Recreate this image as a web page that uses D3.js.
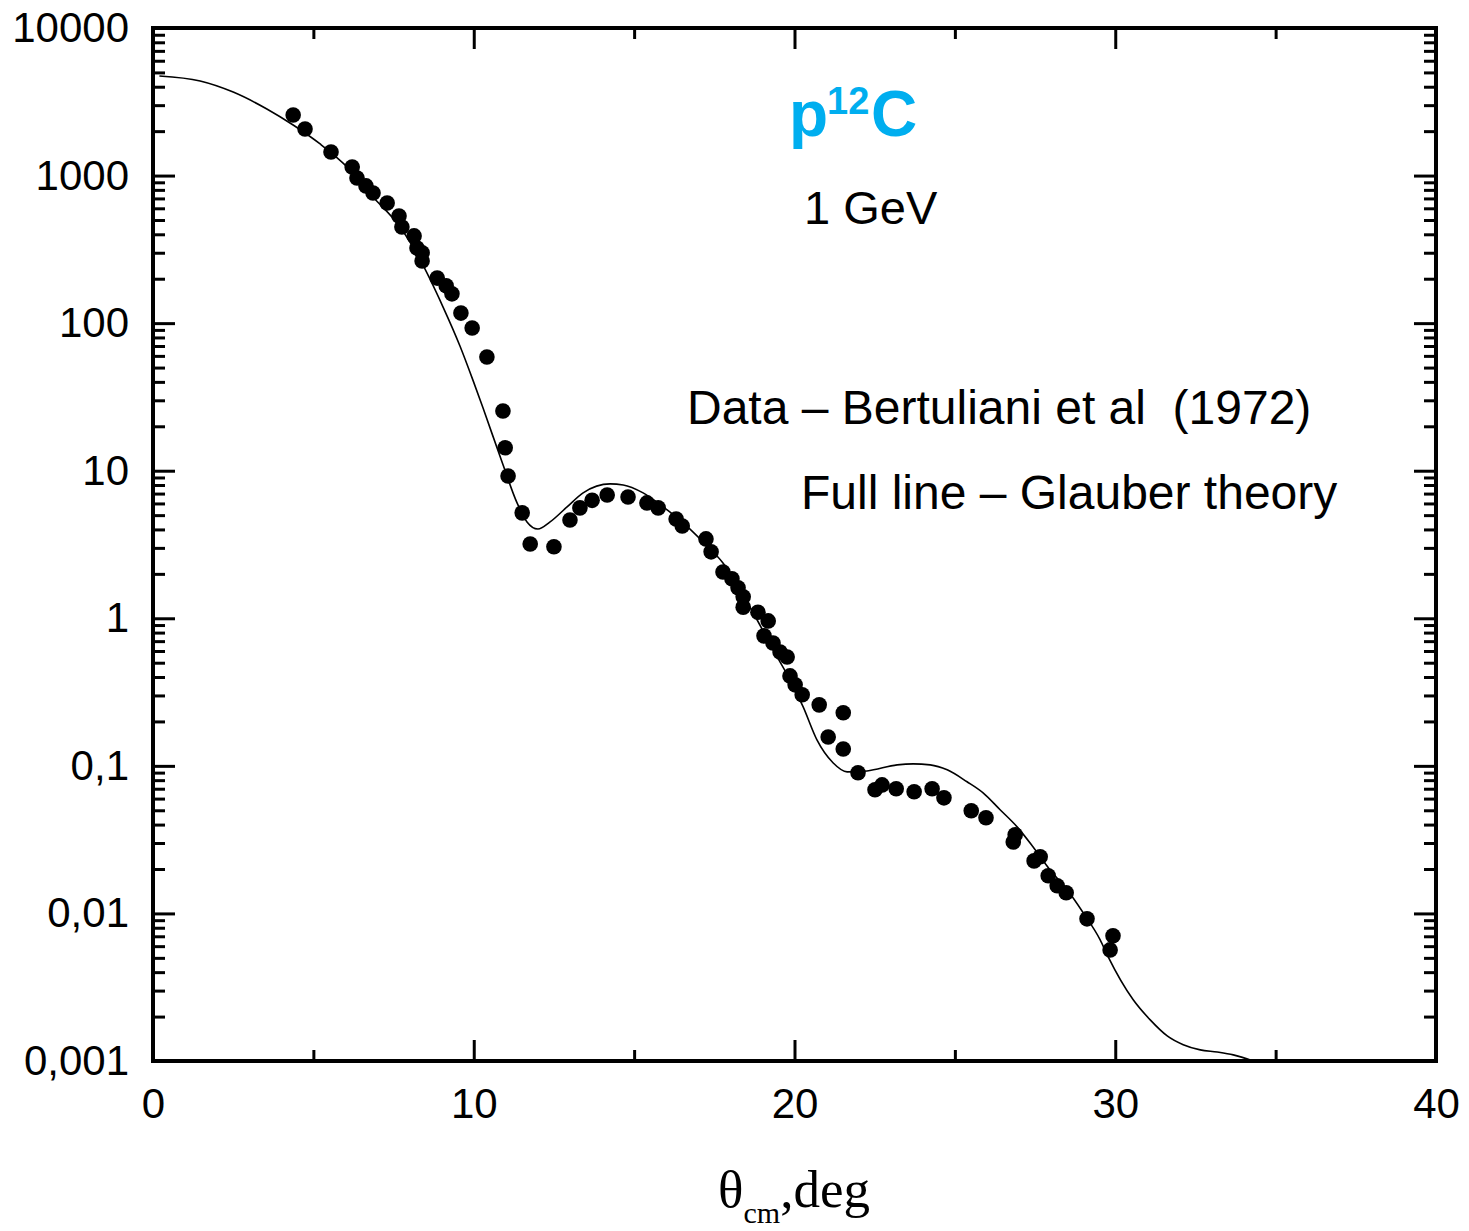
<!DOCTYPE html>
<html>
<head>
<meta charset="utf-8">
<script src="https://cdn.jsdelivr.net/npm/d3@7"></script>
<style>
  html, body { margin: 0; padding: 0; background: #ffffff; }
  svg { display: block; }
</style>
</head>
<body>
<svg id="chart" width="1469" height="1231"></svg>
<script>
// ---------- data ----------
const dataAngle = [4.37, 4.74, 5.55, 6.21, 6.36, 6.64, 6.86, 7.30, 7.67, 7.76, 8.14, 8.23, 8.39, 8.39, 8.86, 9.14, 9.32, 9.60, 9.95, 10.41,
  10.91, 10.98, 11.07, 11.51, 11.76, 12.50, 13.00, 13.31, 13.69, 14.16, 14.81, 15.40, 15.75, 16.31, 16.50, 17.24, 17.40, 17.77, 18.05, 18.24,
  18.40, 18.40, 18.86, 19.18, 19.05, 19.33, 19.55, 19.77, 19.86, 20.02, 20.24, 20.77, 21.52, 21.05, 21.52, 21.98, 22.51, 22.73, 23.17, 23.73,
  24.29, 24.66, 25.51, 25.97, 26.82, 26.88, 27.47, 27.66, 27.91, 28.19, 28.47, 29.12, 29.93, 29.84];
const dataXsec = [2576, 2070, 1445, 1143, 963, 851, 762, 652, 532, 448, 390, 323, 300, 264, 202, 179, 158, 117, 92.8, 59,
  25.4, 14.3, 9.2, 5.18, 3.19, 3.05, 4.64, 5.6, 6.3, 6.85, 6.64, 6.05, 5.6, 4.71, 4.22, 3.45, 2.82, 2.06, 1.85, 1.61,
  1.40, 1.19, 1.10, 0.96, 0.76, 0.68, 0.59, 0.547, 0.407, 0.354, 0.303, 0.259, 0.229, 0.157, 0.130, 0.0897, 0.0688, 0.0743, 0.070, 0.0667,
  0.070, 0.0607, 0.0496, 0.0445, 0.0305, 0.0341, 0.0227, 0.0242, 0.0180, 0.0154, 0.0138, 0.00919, 0.00705, 0.00566];

const theoryAngle = [0.2, 1.47, 2.5, 3.55, 4.37, 5.21, 6.05, 6.86, 7.70, 8.33, 9.04, 9.57, 9.98, 10.29, 10.91, 11.35, 11.66, 12.00, 12.38, 12.91,
  13.41, 14.25, 14.66, 15.28, 16.03, 16.53, 17.15, 17.77, 18.71, 19.46, 19.86, 20.27, 20.70, 21.20, 21.64, 22.26, 23.20, 23.70, 24.23, 24.76,
  25.38, 25.88, 26.41, 26.94, 27.44, 27.97, 28.50, 29.00, 29.53, 29.78, 30.56, 31.09, 31.62, 32.12, 32.65, 33.18, 33.68, 34.30];
const theoryXsec = [4730, 4375, 3680, 2826, 2200, 1637, 1145, 716, 449, 268, 129, 70, 40.8, 26.6, 11.0, 6.05, 4.50, 4.03, 4.50, 5.69,
  7.08, 8.14, 8.01, 7.08, 5.42, 4.43, 3.29, 2.37, 1.09, 0.547, 0.383, 0.251, 0.150, 0.105, 0.0911, 0.0924, 0.1016, 0.1032, 0.1016, 0.094,
  0.078, 0.0656, 0.0504, 0.0386, 0.0282, 0.0197, 0.01445, 0.0101, 0.00662, 0.00508, 0.0026, 0.0019, 0.00148, 0.00129, 0.00119, 0.00115, 0.0011, 0.001];

const xMajorTicks = [0, 10, 20, 30, 40];
const xMinorTicks = [5, 15, 25, 35];
const yMajorTicks = [10000, 1000, 100, 10, 1, 0.1, 0.01, 0.001];
const yTickLabels = ["10000", "1000", "100", "10", "1", "0,1", "0,01", "0,001"];

// ---------- layout ----------
const svg = d3.select("#chart");
const L = 153, R = 1436, T = 28, B = 1061;

const x = d3.scaleLinear().domain([0, 40]).range([L, R]);
const y = d3.scaleLog().domain([0.001, 10000]).range([B, T]);

const yMinorTicks = [];
yMajorTicks.slice(1).forEach(d => { for (let k = 2; k <= 9; k++) yMinorTicks.push(d * k); });

const labelFor = new Map(yMajorTicks.map((d, i) => [d, yTickLabels[i]]));

const axisFont = "'Liberation Sans', Arial, sans-serif";

function styleAxis(g, width) {
  g.select(".domain").remove();
  g.selectAll(".tick line").attr("stroke", "#000").attr("stroke-width", width);
  g.selectAll(".tick text").attr("fill", "#000").style("font-family", axisFont).style("font-size", "42px");
}

// left axis
svg.append("g").attr("transform", `translate(${L},0)`)
  .call(d3.axisLeft(y).tickValues(yMinorTicks).tickSize(-12).tickFormat(""))
  .call(g => styleAxis(g, 3));
svg.append("g").attr("transform", `translate(${L},0)`)
  .call(d3.axisLeft(y).tickValues(yMajorTicks).tickSize(-22).tickPadding(24).tickFormat(d => labelFor.get(d)))
  .call(g => styleAxis(g, 3));

// right axis
svg.append("g").attr("transform", `translate(${R},0)`)
  .call(d3.axisRight(y).tickValues(yMinorTicks).tickSize(-12).tickFormat(""))
  .call(g => styleAxis(g, 3));
svg.append("g").attr("transform", `translate(${R},0)`)
  .call(d3.axisRight(y).tickValues(yMajorTicks).tickSize(-22).tickFormat(""))
  .call(g => styleAxis(g, 3));

// bottom axis
svg.append("g").attr("transform", `translate(0,${B})`)
  .call(d3.axisBottom(x).tickValues(xMinorTicks).tickSize(-11).tickFormat(""))
  .call(g => styleAxis(g, 3));
svg.append("g").attr("transform", `translate(0,${B})`)
  .call(d3.axisBottom(x).tickValues(xMajorTicks).tickSize(-21).tickPadding(27).tickFormat(d3.format("d")))
  .call(g => styleAxis(g, 3));

// top axis
svg.append("g").attr("transform", `translate(0,${T})`)
  .call(d3.axisTop(x).tickValues(xMinorTicks).tickSize(-11).tickFormat(""))
  .call(g => styleAxis(g, 3));
svg.append("g").attr("transform", `translate(0,${T})`)
  .call(d3.axisTop(x).tickValues(xMajorTicks).tickSize(-21).tickFormat(""))
  .call(g => styleAxis(g, 3));

// frame
svg.append("rect")
  .attr("x", L).attr("y", T).attr("width", R - L).attr("height", B - T)
  .attr("fill", "none").attr("stroke", "#000").attr("stroke-width", 4);

// theory curve
const theory = theoryAngle.map((a, i) => [a, theoryXsec[i]]);
const line = d3.line().x(d => x(d[0])).y(d => y(d[1])).curve(d3.curveMonotoneX);
svg.append("path").datum(theory)
  .attr("d", line).attr("fill", "none").attr("stroke", "#000").attr("stroke-width", 1.6);

// data points
const pts = dataAngle.map((a, i) => [a, dataXsec[i]]);
svg.append("g").selectAll("circle").data(pts).join("circle")
  .attr("cx", d => x(d[0])).attr("cy", d => y(d[1])).attr("r", 7.8).attr("fill", "#000");

// annotations
const cyan = "#00AEEF";
svg.append("text").attr("x", 789).attr("y", 136).attr("fill", cyan)
  .style("font-family", axisFont).style("font-weight", "bold").style("font-size", "64px").text("p");
svg.append("text").attr("x", 827).attr("y", 114).attr("fill", cyan)
  .style("font-family", axisFont).style("font-weight", "bold").style("font-size", "38px").text("12");
svg.append("text").attr("x", 871).attr("y", 136).attr("fill", cyan)
  .style("font-family", axisFont).style("font-weight", "bold").style("font-size", "64px").text("C");

svg.append("text").attr("x", 804).attr("y", 224).attr("fill", "#000")
  .style("font-family", axisFont).style("font-size", "47px").text("1 GeV");

svg.append("text").attr("x", 687).attr("y", 424).attr("fill", "#000")
  .style("font-family", axisFont).style("font-size", "48px").style("white-space", "pre")
  .attr("xml:space", "preserve")
  .text("Data \u2013 Bertuliani et al  (1972)");

svg.append("text").attr("x", 801).attr("y", 509).attr("fill", "#000")
  .style("font-family", axisFont).style("font-size", "48px")
  .text("Full line \u2013 Glauber theory");

// x-axis title
const xt = svg.append("text").attr("x", 794).attr("y", 1207).attr("text-anchor", "middle")
  .attr("fill", "#000").style("font-family", "'Liberation Serif', 'Times New Roman', serif").style("font-size", "53px");
xt.append("tspan").text("\u03B8");
xt.append("tspan").attr("dy", 16).style("font-size", "30px").text("cm");
xt.append("tspan").attr("dy", -16).text(",deg");
</script>
</body>
</html>
